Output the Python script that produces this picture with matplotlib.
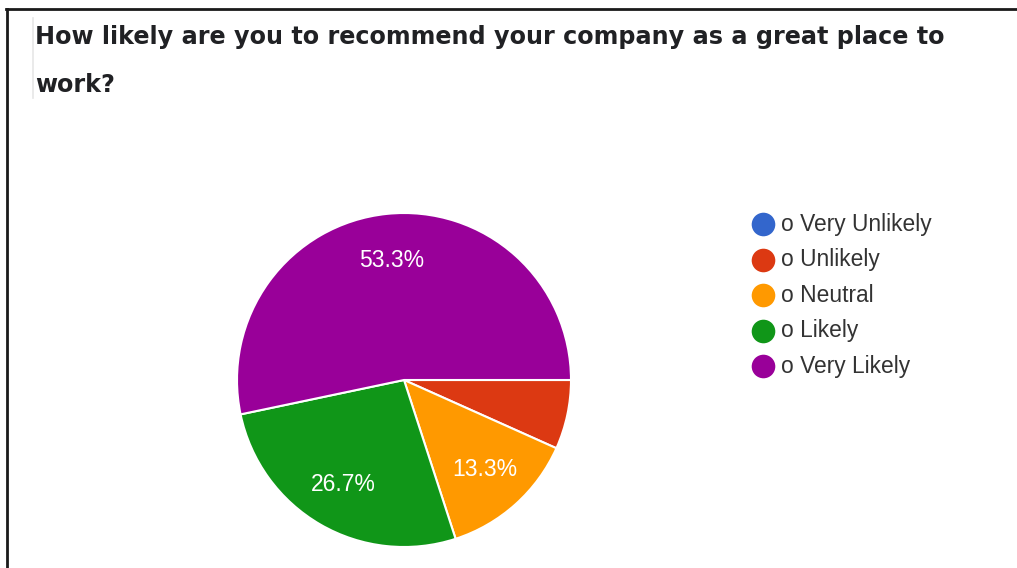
import matplotlib
matplotlib.use("Agg")
import matplotlib.pyplot as plt
from matplotlib.lines import Line2D

# Survey responses
categories = ["o Very Unlikely", "o Unlikely", "o Neutral", "o Likely", "o Very Likely"]
shares = [0.0, 6.7, 13.3, 26.7, 53.3]
colors = ["#3366cc", "#dc3912", "#ff9900", "#109618", "#990099"]
title_lines = ["How likely are you to recommend your company as a great place to", "work?"]

W, H = 1017, 568
fig = plt.figure(figsize=(W / 100, H / 100), dpi=100)
fig.patch.set_facecolor("white")

# Pie axes (pixel geometry converted to figure fractions)
cx, cy, r = 404, 380, 167
ax = fig.add_axes([(cx - r) / W, (H - cy - r) / H, 2 * r / W, 2 * r / H])


def pct_label(p):
    return f"{p:.1f}%" if p >= 10 else ""


wedges, _, autotexts = ax.pie(
    shares,
    colors=colors,
    startangle=0,
    counterclock=False,
    autopct=pct_label,
    pctdistance=0.72,
    wedgeprops=dict(edgecolor="white", linewidth=1.5),
    textprops=dict(color="white", fontsize=16.5, family=["Liberation Sans", "DejaVu Sans"]),
)
ax.set_xlim(-1, 1)
ax.set_ylim(-1, 1)
ax.set_aspect("equal")

# Overlay in pixel coordinates for title, legend and frame
ov = fig.add_axes([0, 0, 1, 1], facecolor="none")
ov.set_xlim(0, W)
ov.set_ylim(H, 0)
ov.axis("off")

title_kw = dict(fontsize=17.2, fontweight="bold", color="#202124",
                family=["DejaVu Sans"], va="baseline", ha="left")
ov.text(35, 44, title_lines[0], **title_kw)
ov.text(35, 92, title_lines[1], **title_kw)
ov.add_line(Line2D([33, 33], [18, 98], color="#e6e6e6", linewidth=1.2))

# Legend
leg_x, leg_y0, leg_dy = 763, 224, 35.6
for i, (cat, col) in enumerate(zip(categories, colors)):
    y = leg_y0 + i * leg_dy
    ov.plot([leg_x], [y], marker="o", markersize=17, color=col, markeredgewidth=0)
    ov.text(781, y, cat, fontsize=16.4, color="#333333", va="center", ha="left",
            family=["Liberation Sans", "DejaVu Sans"])

# Frame lines
ov.add_line(Line2D([6, W], [9, 9], color="#1a1a1a", linewidth=2))
ov.add_line(Line2D([7, 7], [9, H], color="#1a1a1a", linewidth=2))

fig.savefig("out.png", dpi=100, facecolor="white")
